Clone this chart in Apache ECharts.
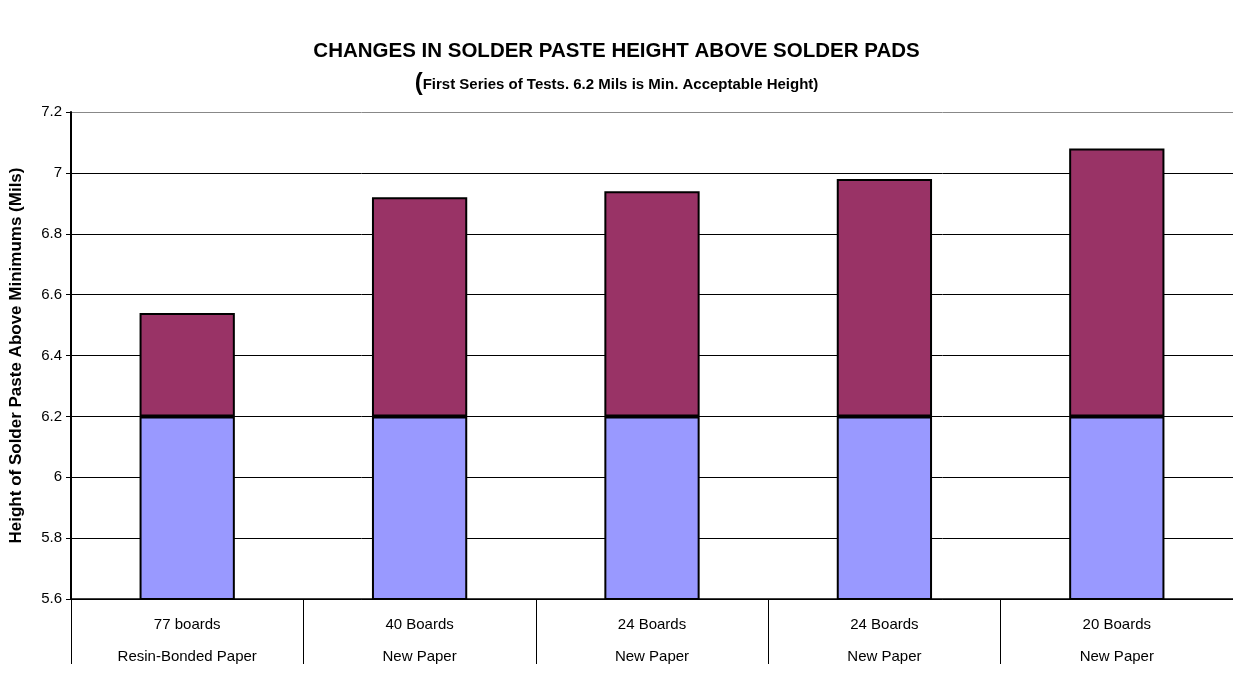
<!DOCTYPE html>
<html><head><meta charset="utf-8">
<script src="https://cdn.jsdelivr.net/npm/echarts@6/dist/echarts.min.js"></script>
<style>html,body{margin:0;padding:0;background:#fff}#c{width:1233px;height:673px}</style>
</head><body><div id="c"></div>
<script>
const categories = ['77 boards\nResin-Bonded Paper','40 Boards\nNew Paper','24 Boards\nNew Paper','24 Boards\nNew Paper','20 Boards\nNew Paper'];
const minimumHeight = [6.2, 6.2, 6.2, 6.2, 6.2];
const aboveMinimum = [0.34, 0.72, 0.74, 0.78, 0.88];
const yTicks = [5.6, 5.8, 6, 6.2, 6.4, 6.6, 6.8, 7, 7.2];

const chart = echarts.init(document.getElementById('c'));
const font = '"Liberation Sans", Arial, sans-serif';
chart.setOption({
  animation: false,
  textStyle: {fontFamily: font},
  title: [{
    text: 'CHANGES IN SOLDER PASTE HEIGHT ABOVE SOLDER PADS',
    left: 'center', top: 36,
    textStyle: {fontFamily: font, fontSize: 20.5, fontWeight: 'bold', color: '#000'}
  }, {
    text: '{p|(}{s|First Series of Tests. 6.2 Mils is Min. Acceptable Height)}',
    left: 'center', top: 66,
    textStyle: {fontFamily: font, rich: {
      p: {fontFamily: font, fontSize: 24, fontWeight: 'bold', color: '#000'},
      s: {fontFamily: font, fontSize: 15, fontWeight: 'bold', color: '#000', padding: [4,0,0,0]}
    }}
  }],
  grid: {left: 66, right: 0, top: 112, bottom: 68, containLabel: false},
  xAxis: {
    type: 'category', data: categories,
    axisLine: {lineStyle: {color: '#000', width: 1.5}},
    axisTick: {show: true, length: 65, lineStyle: {color: '#000', width: 1}},
    axisLabel: {color: '#000', fontSize: 15, fontFamily: font, lineHeight: 32, margin: 10}
  },
  yAxis: {
    type: 'value', min: 5.6, max: 7.2, interval: 0.2,
    name: 'Height of Solder Paste Above Minimums (Mils)',
    nameLocation: 'middle', nameGap: 46, nameRotate: 90,
    nameTextStyle: {fontFamily: font, fontSize: 17, fontWeight: 'bold', color: '#000'},
    axisLine: {show: true, lineStyle: {color: '#000', width: 2}},
    axisTick: {show: true, length: 5, lineStyle: {color: '#000'}},
    axisLabel: {color: '#000', fontSize: 15, fontFamily: font, margin: 9,
      formatter: v => { const t = yTicks.find(x => Math.abs(x - v) < 1e-6); return t === undefined ? '' : String(t); }},
    splitLine: {show: true, lineStyle: {color: ['#000','#000','#000','#000','#000','#000','#000','#000','#888'], width: 1}}
  },
  series: [{
    type: 'bar', stack: 's', data: minimumHeight, barWidth: '41%',
    itemStyle: {color: '#9999FF', borderColor: '#000', borderWidth: 2}
  }, {
    type: 'bar', stack: 's', data: aboveMinimum, barWidth: '41%',
    itemStyle: {color: '#993366', borderColor: '#000', borderWidth: 2}
  }]
});
</script></body></html>
